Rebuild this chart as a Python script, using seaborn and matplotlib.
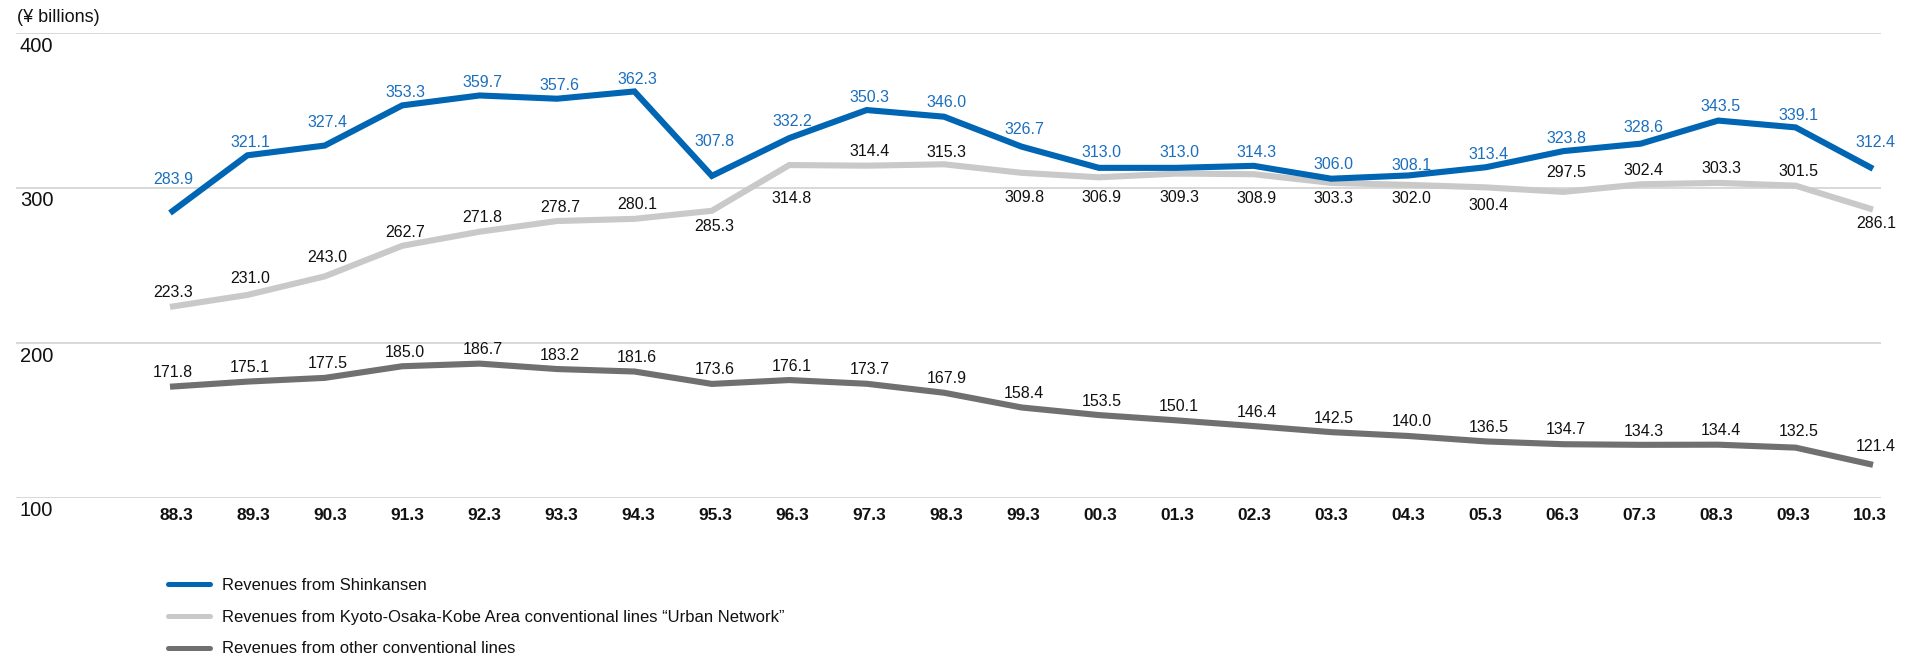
import numpy as np
import pandas as pd
import matplotlib
matplotlib.use("Agg")
import matplotlib.pyplot as plt
from matplotlib.lines import Line2D
import seaborn as sns

# Fiscal periods (year.month)
periods = ["88.3", "89.3", "90.3", "91.3", "92.3", "93.3", "94.3", "95.3",
           "96.3", "97.3", "98.3", "99.3", "00.3", "01.3", "02.3", "03.3",
           "04.3", "05.3", "06.3", "07.3", "08.3", "09.3", "10.3"]

# Transportation revenues (¥ billions)
shinkansen = [283.9, 321.1, 327.4, 353.3, 359.7, 357.6, 362.3, 307.8, 332.2,
              350.3, 346.0, 326.7, 313.0, 313.0, 314.3, 306.0, 308.1, 313.4,
              323.8, 328.6, 343.5, 339.1, 312.4]
urban_network = [223.3, 231.0, 243.0, 262.7, 271.8, 278.7, 280.1, 285.3, 314.8,
                 314.4, 315.3, 309.8, 306.9, 309.3, 308.9, 303.3, 302.0, 300.4,
                 297.5, 302.4, 303.3, 301.5, 286.1]
other_lines = [171.8, 175.1, 177.5, 185.0, 186.7, 183.2, 181.6, 173.6, 176.1,
               173.7, 167.9, 158.4, 153.5, 150.1, 146.4, 142.5, 140.0, 136.5,
               134.7, 134.3, 134.4, 132.5, 121.4]

series_names = [
    "Revenues from Shinkansen",
    "Revenues from Kyoto-Osaka-Kobe Area conventional lines \u201cUrban Network\u201d",
    "Revenues from other conventional lines",
]
y_ticks = [100, 200, 300, 400]

# Vertical placement of each value label, in pixels (positive = above the line)
shinkansen_dy = [33, 13, 23, 13, 13, 13, 12, 34, 17, 13, 14, 17, 15, 15, 13,
                 14, 10, 13, 13, 16, 14, 12, 26]
urban_dy = [14, 16, 19, 13, 14, 14, 14, -16, -33, 14, 12, -25, -20, -24, -24,
            -16, -14, -18, 19, 14, 14, 14, -14]
other_dy = [14] * 18 + [15, 13, 14, 16, 18]

colors = ["#0066b3", "#c9c9c9", "#707070"]
label_colors = ["#1b6fbe", "#111111", "#111111"]

sns.set_theme(style="white")
plt.rcParams["font.family"] = ["Liberation Sans", "DejaVu Sans"]

W, H, DPI = 1910, 656, 100
fig = plt.figure(figsize=(W / DPI, H / DPI), dpi=DPI)
ax_left, ax_right, ax_top, ax_bottom = 16, 1881, 33, 498
ax = fig.add_axes([ax_left / W, 1 - ax_bottom / H,
                   (ax_right - ax_left) / W, (ax_bottom - ax_top) / H])

pos = np.arange(len(periods))
df = pd.DataFrame({
    "pos": np.tile(pos, 3),
    "value": shinkansen + urban_network + other_lines,
    "series": np.repeat(series_names, len(periods)),
})

sns.lineplot(data=df, x="pos", y="value", hue="series", hue_order=series_names,
             palette=colors, linewidth=4.4, ax=ax, legend=False, sort=False)
for line, z in zip(ax.lines, [4, 3, 3]):
    line.set_zorder(z)
    line.set_solid_capstyle("butt")
    line.set_solid_joinstyle("miter")

# axis range: first point at x=170px, last at x=1873px
step = (1873 - 170) / 22
ax.set_xlim(-(170 - ax_left) / step, 22 + (ax_right - 1873) / step)
ax.set_ylim(100, 400)

for s in ax.spines.values():
    s.set_visible(False)
ax.set_yticks(y_ticks)
ax.set_yticklabels([])
ax.tick_params(axis="y", length=0)
ax.yaxis.grid(True, color="#d2d2d2", linewidth=1.2)
ax.set_axisbelow(True)
ax.set_xlabel("")
ax.set_ylabel("")

# period labels run on a slightly tighter pitch than the data points
tick_pos = 0.08 + pos * (22 - 0.12) / 22
ax.set_xticks(tick_pos)
ax.set_xticklabels(periods, fontsize=12.5, fontweight="bold", color="#111111")
ax.tick_params(axis="x", length=0, pad=7.5)

# y-axis values sit just under each gridline
for v in y_ticks:
    ax.annotate(str(v), xy=(0.002, v), xycoords=("axes fraction", "data"),
                xytext=(0, -13 * 0.72), textcoords="offset points",
                ha="left", va="center", fontsize=14.5, color="#111111")

fig.text(17 / W, 1 - 17 / H, "(\u00a5 billions)", ha="left", va="center",
         fontsize=13, color="#111111")

# value labels
for vals, dys, col in zip([shinkansen, urban_network, other_lines],
                          [shinkansen_dy, urban_dy, other_dy], label_colors):
    for i, (v, dy) in enumerate(zip(vals, dys)):
        ax.annotate(f"{v:.1f}", xy=(pos[i], v), xytext=(2, dy * 0.72),
                    textcoords="offset points", ha="center", va="center",
                    fontsize=11.5, color=col, zorder=5)

handles = [Line2D([], [], color=c, linewidth=3.6, solid_capstyle="round")
           for c in colors]
fig.legend(handles, series_names, loc="upper left",
           bbox_to_anchor=(168 / W, 1 - 578 / H), frameon=False,
           borderpad=0, borderaxespad=0, handlelength=2.5, handletextpad=0.75,
           labelspacing=1.0, fontsize=12, labelcolor="#111111")

fig.savefig("out.png", dpi=DPI)
